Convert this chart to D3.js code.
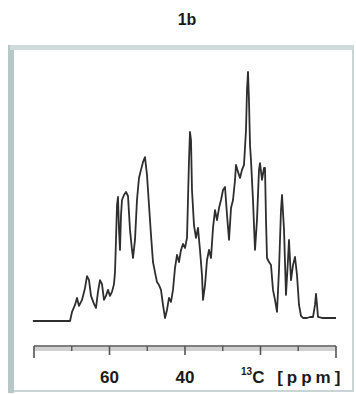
<!DOCTYPE html>
<html><head><meta charset="utf-8">
<script src="https://cdn.jsdelivr.net/npm/d3@7"></script>
<style>body{margin:0;background:#fff}svg{display:block}</style>
</head><body>
<svg id="c" width="356" height="394"></svg>
<script>
const title = "1b";
const ppm = [80.3,70.46,69.93,69.14,68.61,68.08,67.28,66.49,65.96,65.43,64.90,64.11,63.58,63.05,62.52,61.99,61.46,60.93,60.40,59.87,59.34,58.81,58.54,58.28,58.01,57.75,57.48,57.22,56.95,56.69,56.16,55.63,55.10,54.57,54.04,53.77,53.25,52.72,52.19,51.66,51.13,50.60,50.07,49.54,49.01,48.48,47.95,47.42,46.89,46.36,45.83,45.30,44.77,44.24,43.71,43.18,42.65,42.12,41.59,41.06,40.53,40.0,39.47,38.94,38.68,38.41,38.15,37.62,37.09,36.56,36.03,35.50,35.23,34.70,34.17,33.64,33.11,32.58,32.05,31.52,30.99,30.46,29.93,29.40,28.87,28.34,27.81,27.28,26.75,26.49,25.96,25.43,24.90,24.37,23.84,23.58,23.31,23.05,22.78,22.52,21.99,21.46,20.93,20.40,20.13,19.60,19.07,18.81,18.54,18.28,17.75,17.22,16.69,16.16,15.63,15.10,14.57,14.30,13.77,13.25,12.72,12.45,11.92,11.39,10.86,10.33,9.80,9.27,8.74,7.68,6.89,6.09,5.56,5.30,5.03,4.77,3.71,0.0];
const intensity = [0,0,3.6,6.4,9.2,6.0,8.4,13.1,17.9,16.3,10.0,6.8,5.2,11.6,16.3,14.7,8.4,10.0,12.4,10.0,11.6,14.7,19.5,32.3,46.2,49.4,36.3,28.3,42.2,48.2,50.2,51.4,49.8,36.3,28.3,25.1,32.3,48.2,57.0,60.2,63.3,65.3,58.2,46.2,34.3,23.5,19.5,15.5,14.3,12.4,6.4,1.2,4.4,9.2,7.6,12.4,21.1,26.3,23.5,28.3,30.7,29.1,33.1,64.1,75.3,72.1,52.2,38.2,33.1,37.1,28.3,18.3,8.4,14.3,24.3,28.3,25.1,37.1,44.2,40.2,45.0,48.2,52.2,53.4,42.2,32.3,45.0,48.2,56.2,62.2,59.4,57.0,60.2,62.2,76.1,92.0,99.2,88.0,70.1,64.1,48.2,28.3,40.2,60.2,62.9,56.2,61.0,61.0,40.2,25.1,23.5,22.3,12.4,8.4,3.6,20.3,44.2,50.2,36.3,10.4,24.3,32.3,16.3,22.3,25.5,18.3,6.4,2.0,1.2,1.2,1.6,1.6,6.4,10.8,6.4,1.6,1.2,1.2];
const majorTicks = [80,60,40,20,0];
const minorTicks = [70,50,30,10];
const tickLabels = ["60","40"];

const svg = d3.select("#c");
const x = d3.scaleLinear().domain([80,0]).range([34,336]);
const y = d3.scaleLinear().domain([0,100]).range([321,70]);

// frame
svg.append("rect").attr("x",11).attr("y",47).attr("width",342).attr("height",344)
  .attr("fill","none").attr("stroke","#c9d5d5").attr("stroke-width",2);
svg.append("rect").attr("x",8).attr("y",45).attr("width",6).attr("height",348).attr("fill","#b7c6c6");
svg.append("rect").attr("x",10).attr("y",45).attr("width",344).attr("height",5).attr("fill","#cfdada");

// title
svg.append("text").attr("x",187).attr("y",25).attr("text-anchor","middle")
  .attr("font-family","Liberation Sans, Arial, sans-serif").attr("font-weight","bold")
  .attr("font-size",16).attr("fill","#1a1a1a").text(title);

// spectrum
const pts = ppm.map((p,i)=>[p,intensity[i]]);
svg.append("path").datum(pts)
  .attr("d", d3.line().x(d=>x(d[0])).y(d=>y(d[1])))
  .attr("fill","none").attr("stroke","#2e2e2e").attr("stroke-width",1.8)
  .attr("stroke-linejoin","round");

// axis
svg.append("rect").attr("x",34).attr("y",347).attr("width",302).attr("height",4).attr("fill","#d0d0d0");
const ax = svg.append("g").attr("transform","translate(0,346)");
ax.append("line").attr("x1",x(80)).attr("x2",x(0)).attr("y1",0).attr("y2",0)
  .attr("stroke","#555").attr("stroke-width",1.6);
ax.selectAll(".maj").data(majorTicks).join("line")
  .attr("x1",d=>x(d)).attr("x2",d=>x(d)).attr("y1",0).attr("y2",d=>(d===80||d===0)?12:9)
  .attr("stroke","#555").attr("stroke-width",1.6);
ax.selectAll(".min").data(minorTicks).join("line")
  .attr("x1",d=>x(d)).attr("x2",d=>x(d)).attr("y1",0).attr("y2",5)
  .attr("stroke","#555").attr("stroke-width",1.4);
ax.selectAll(".lab").data(tickLabels).join("text")
  .attr("x",d=>x(+d)).attr("y",37).attr("text-anchor","middle")
  .attr("font-family","Liberation Sans, Arial, sans-serif").attr("font-weight","bold")
  .attr("font-size",17).attr("fill","#1a1a1a").text(d=>d);
const t = ax.append("text").attr("x",241).attr("y",37)
  .attr("font-family","Liberation Sans, Arial, sans-serif").attr("font-weight","bold")
  .attr("font-size",17).attr("fill","#1a1a1a");
t.append("tspan").attr("font-size",10).attr("dy",-8).text("13");
t.append("tspan").attr("dy",8).attr("letter-spacing",4).text("C [ppm]");
</script>
</body></html>
